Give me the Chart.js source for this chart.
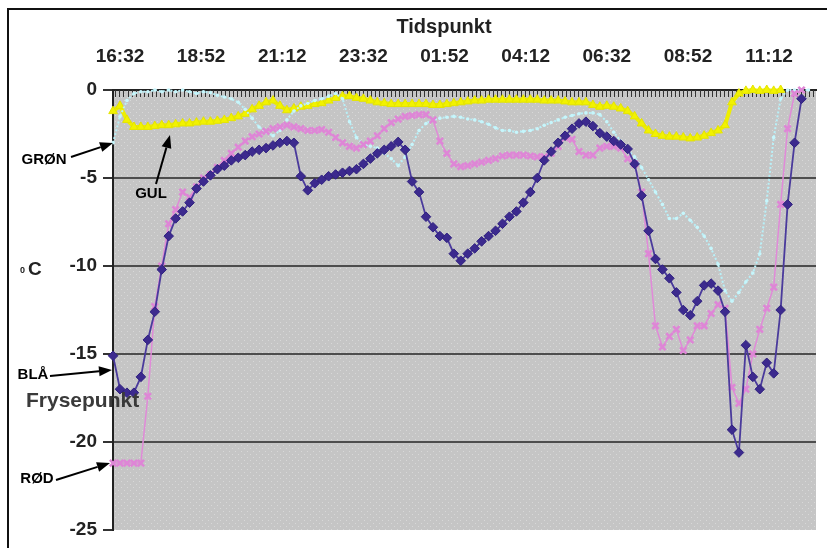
<!DOCTYPE html>
<html><head><meta charset="utf-8">
<script src="https://cdn.jsdelivr.net/npm/chart.js@4.4.1/dist/chart.umd.min.js"></script>
<style>html,body{margin:0;padding:0;background:#fff;}#wrap{width:827px;height:548px;position:relative;}</style>
</head><body><div id="wrap"><canvas id="c" width="827" height="548"></canvas></div>
<script>
// minutes after 16:32
const minutes = [-12,0,12,24,36,48,60,72,84,96,108,120,132,144,156,168,180,192,204,216,228,240,252,264,276,288,300,312,324,336,348,360,372,384,396,408,420,432,444,456,468,480,492,504,516,528,540,552,564,576,588,600,612,624,636,648,660,672,684,696,708,720,732,744,756,768,780,792,804,816,828,840,852,864,876,888,900,912,924,936,948,960,972,984,996,1008,1020,1032,1044,1056,1068,1080,1092,1104,1116,1128,1140,1152,1164,1176,1188];
const tickMinutes = [0,140,280,420,560,700,840,980,1120];
const tickLabels = ['16:32','18:52','21:12','23:32','01:52','04:12','06:32','08:52','11:12'];
const yTickValues = [0,-5,-10,-15,-20,-25];

const blaa = [-15.1,-17.0,-17.2,-17.2,-16.3,-14.2,-12.6,-10.2,-8.3,-7.3,
 -6.9,-6.4,-5.6,-5.2,-4.85,-4.5,-4.3,-4.0,-3.85,-3.7,
 -3.5,-3.4,-3.3,-3.15,-3.0,-2.9,-3.0,-4.9,-5.7,-5.3,
 -5.1,-4.9,-4.8,-4.7,-4.6,-4.5,-4.2,-3.9,-3.6,-3.4,
 -3.2,-2.95,-3.4,-5.2,-5.8,-7.2,-7.8,-8.3,-8.4,-9.3,
 -9.7,-9.3,-9.0,-8.6,-8.3,-8.0,-7.6,-7.2,-6.9,-6.4,
 -5.8,-5.0,-4.0,-3.5,-3.0,-2.6,-2.2,-1.9,-1.8,-2.05,
 -2.45,-2.65,-2.9,-3.1,-3.35,-4.2,-6.0,-8.0,-9.6,-10.2,
 -10.7,-11.5,-12.5,-12.8,-12.0,-11.1,-11.0,-11.4,-12.6,-19.3,
 -20.6,-14.5,-16.3,-17.0,-15.5,-16.1,-12.5,-6.5,-3.0,-0.5,
 null];
const roed = [-21.2,-21.2,-21.2,-21.2,-21.2,-17.4,-12.3,-10.0,-7.6,-6.8,
 -5.8,-6.1,-5.5,-5.0,-4.8,-4.4,-4.0,-3.6,-3.25,-2.9,
 -2.65,-2.5,-2.35,-2.2,-2.1,-2.0,-2.1,-2.2,-2.3,-2.3,
 -2.25,-2.4,-2.7,-3.0,-3.2,-3.3,-3.1,-2.9,-2.6,-2.2,
 -1.85,-1.65,-1.5,-1.45,-1.4,-1.4,-1.7,-2.9,-3.6,-4.2,
 -4.35,-4.3,-4.2,-4.1,-4.0,-3.9,-3.75,-3.7,-3.7,-3.7,
 -3.75,-3.8,-3.8,-3.6,-3.2,-2.7,-2.8,-3.5,-3.7,-3.7,
 -3.3,-3.2,-3.2,-3.3,-3.9,-4.2,-5.8,-9.3,-13.4,-14.6,
 -14.0,-13.6,-14.8,-14.2,-13.4,-13.4,-12.7,-12.2,-12.4,-16.9,
 -17.8,-17.0,-15.0,-13.6,-12.4,-11.2,-6.5,-2.2,-0.2,0,
 null];
const gul = [-1.2,-0.9,-1.7,-2.1,-2.1,-2.1,-2.05,-2.0,-2.0,-1.95,
 -1.9,-1.9,-1.85,-1.8,-1.8,-1.75,-1.7,-1.6,-1.5,-1.35,
 -1.1,-0.9,-0.7,-0.6,-0.9,-1.15,-1.05,-0.95,-0.9,-0.8,
 -0.75,-0.6,-0.45,-0.35,-0.35,-0.45,-0.5,-0.6,-0.7,-0.75,
 -0.8,-0.8,-0.8,-0.8,-0.8,-0.8,-0.85,-0.85,-0.8,-0.75,
 -0.7,-0.65,-0.6,-0.6,-0.55,-0.55,-0.55,-0.55,-0.55,-0.55,
 -0.55,-0.55,-0.6,-0.6,-0.6,-0.65,-0.7,-0.7,-0.7,-0.85,
 -0.95,-0.9,-0.95,-1.05,-1.2,-1.5,-1.9,-2.3,-2.5,-2.6,
 -2.65,-2.65,-2.7,-2.75,-2.7,-2.6,-2.45,-2.3,-2.0,-0.7,
 -0.2,-0.05,0,-0.05,0,-0.05,0,null,null,null,
 null];
const groen = [-3.0,-1.5,-0.6,-0.2,-0.1,-0.1,0,-0.1,0,-0.1,
 0,-0.1,-0.2,-0.1,-0.15,-0.3,-0.4,-0.5,-0.7,-1.1,
 -1.6,-2.1,-2.4,-2.6,-2.3,-1.7,-1.2,-0.9,-0.75,-0.6,
 -0.5,-0.35,-0.2,-0.5,-1.8,-2.7,-3.1,-3.2,-3.3,-3.6,
 -3.9,-4.3,-3.8,-3.1,-2.3,-1.9,-1.7,-1.6,-1.55,-1.5,
 -1.55,-1.65,-1.7,-1.8,-1.95,-2.15,-2.3,-2.3,-2.4,-2.35,
 -2.3,-2.2,-2.0,-1.85,-1.7,-1.55,-1.45,-1.35,-1.3,-1.3,
 -1.4,-1.8,-2.4,-2.9,-3.4,-3.8,-4.4,-5.1,-5.8,-6.5,
 -7.3,-7.3,-7.0,-7.4,-7.8,-8.3,-9.0,-9.9,-11.4,-12.0,
 -11.5,-10.9,-10.4,-9.3,-6.3,-2.7,-0.5,0,0,0,
 0];

const pts = arr => minutes.map((m, i) => ({x: m, y: arr[i]}));
const FONT = '"Liberation Sans", Arial, sans-serif';

// dotted gray background pattern
function makePattern(ctx) {
  const p = document.createElement('canvas');
  p.width = 6; p.height = 6;
  const g = p.getContext('2d');
  g.fillStyle = '#c5c5c5'; g.fillRect(0, 0, 6, 6);
  g.fillStyle = '#d8d8d8'; g.fillRect(1, 1, 1, 1); g.fillRect(4, 4, 1, 1);
  return ctx.createPattern(p, 'repeat');
}

const bgPlugin = {
  id: 'bg',
  beforeDraw(chart) {
    const {ctx, chartArea: a} = chart;
    ctx.save();
    ctx.fillStyle = '#fff';
    ctx.fillRect(0, 0, chart.width, chart.height);
    ctx.fillStyle = makePattern(ctx);
    ctx.fillRect(a.left, a.top, a.right - a.left, a.bottom - a.top);
    ctx.strokeStyle = '#111'; ctx.lineWidth = 2;
    ctx.beginPath();
    ctx.moveTo(8, 548); ctx.lineTo(8, 9); ctx.lineTo(827, 9);
    ctx.stroke();
    ctx.restore();
  },
  beforeDatasetsDraw(chart) {
    // dense inside tick marks along the top axis
    const {ctx, chartArea: a, scales: {x}} = chart;
    ctx.save();
    ctx.strokeStyle = '#333'; ctx.lineWidth = 1;
    ctx.beginPath();
    for (let m = -8; m < 1200; m += 7) {
      const px = Math.round(x.getPixelForValue(m)) + 0.5;
      ctx.moveTo(px, a.top); ctx.lineTo(px, a.top + 7);
    }
    ctx.stroke();
    ctx.restore();
  }
};

function arrow(ctx, x1, y1, x2, y2) {
  const ang = Math.atan2(y2 - y1, x2 - x1);
  const L = 13, W = 5;
  const bx = x2 - L * Math.cos(ang), by = y2 - L * Math.sin(ang);
  ctx.beginPath(); ctx.moveTo(x1, y1); ctx.lineTo(bx, by); ctx.stroke();
  ctx.beginPath();
  ctx.moveTo(x2, y2);
  ctx.lineTo(bx + W * Math.sin(ang), by - W * Math.cos(ang));
  ctx.lineTo(bx - W * Math.sin(ang), by + W * Math.cos(ang));
  ctx.closePath(); ctx.fill();
}

const notePlugin = {
  id: 'notes',
  afterDraw(chart) {
    const ctx = chart.ctx;
    ctx.save();
    ctx.fillStyle = '#222';
    ctx.textAlign = 'center'; ctx.textBaseline = 'middle';
    ctx.font = 'bold 20px ' + FONT;
    ctx.fillText('Tidspunkt', 444, 27);
    // unit label
    ctx.textAlign = 'left'; ctx.textBaseline = 'alphabetic';
    ctx.font = 'bold 9px ' + FONT;
    ctx.fillText('0', 20, 273);
    ctx.font = 'bold 19px ' + FONT;
    ctx.fillText('C', 28, 275);
    // Frysepunkt
    ctx.fillStyle = '#3a3a3a';
    ctx.font = 'bold 21px ' + FONT;
    ctx.textBaseline = 'middle';
    ctx.fillText('Frysepunkt', 26, 401);
    // series labels with arrows
    ctx.fillStyle = '#000'; ctx.strokeStyle = '#000'; ctx.lineWidth = 2;
    ctx.font = 'bold 15px ' + FONT;
    ctx.textAlign = 'center';
    ctx.fillText('GRØN', 44, 160);
    ctx.fillText('GUL', 151, 194);
    ctx.fillText('BLÅ', 33, 375);
    ctx.fillText('RØD', 37, 479);
    arrow(ctx, 71, 157, 113, 143);
    arrow(ctx, 156, 184, 170, 135);
    arrow(ctx, 50, 376, 112, 370);
    arrow(ctx, 56, 480, 110, 463);
    ctx.restore();
  }
};

new Chart(document.getElementById('c'), {
  type: 'line',
  data: {
    datasets: [
      {label: 'BLÅ', data: pts(blaa), order: 1, borderColor: '#4a3a9c', borderWidth: 1.8,
       pointStyle: 'rectRot', pointRadius: 4.8, pointBackgroundColor: '#3c2a8e', pointBorderColor: '#2f2080', pointBorderWidth: 1, clip: false},
      {label: 'RØD', data: pts(roed), order: 2, borderColor: '#e08ad8', borderWidth: 1.5,
       pointStyle: 'crossRot', pointRadius: 4.5, pointBorderColor: '#de86d6', pointBorderWidth: 2.6, clip: false},
      {label: 'GRØN', data: pts(groen), order: 3, borderColor: '#b8f0f8', borderWidth: 2, borderDash: [2, 2],
       pointStyle: 'circle', pointRadius: 1.8, pointBackgroundColor: '#c6f6fc', pointBorderWidth: 0, clip: false},
      {label: 'GUL', data: pts(gul), order: 4, borderColor: '#eeee00', borderWidth: 4,
       pointStyle: 'triangle', pointRadius: 5, pointBackgroundColor: '#f2f200', pointBorderColor: '#e4e400', pointBorderWidth: 1, clip: false}
    ]
  },
  options: {
    responsive: false,
    animation: false,
    events: [],
    spanGaps: false,
    layout: {padding: {left: 0, right: 11, top: 0, bottom: 18}},
    plugins: {legend: {display: false}, tooltip: {enabled: false}},
    scales: {
      x: {
        type: 'linear', position: 'top', min: -12.1, max: 1201,
        afterFit(s) { s.height = 90; },
        afterBuildTicks(s) { s.ticks = tickMinutes.map(v => ({value: v})); },
        ticks: {
          autoSkip: false, maxRotation: 0, padding: 22, color: '#222',
          font: {family: FONT, size: 19, weight: 'bold'},
          callback: (v) => tickLabels[tickMinutes.indexOf(v)] ?? ''
        },
        grid: {display: true, drawOnChartArea: false, drawTicks: false},
        border: {display: true, color: '#222', width: 2}
      },
      y: {
        min: -25, max: 0,
        afterFit(s) { s.width = 113; },
        afterBuildTicks(s) { s.ticks = yTickValues.map(v => ({value: v})); },
        ticks: {color: '#222', padding: 6, font: {family: FONT, size: 19, weight: 'bold'}},
        grid: {
          color: (c) => c.tick && c.tick.value === -25 ? 'rgba(0,0,0,0)' : (c.tick && c.tick.value === 0 ? '#222' : '#4d4d4d'),
          lineWidth: 2, tickLength: 10, tickColor: '#333', tickWidth: 2
        },
        border: {display: true, color: '#222', width: 2}
      }
    }
  },
  plugins: [bgPlugin, notePlugin]
});
</script></body></html>
